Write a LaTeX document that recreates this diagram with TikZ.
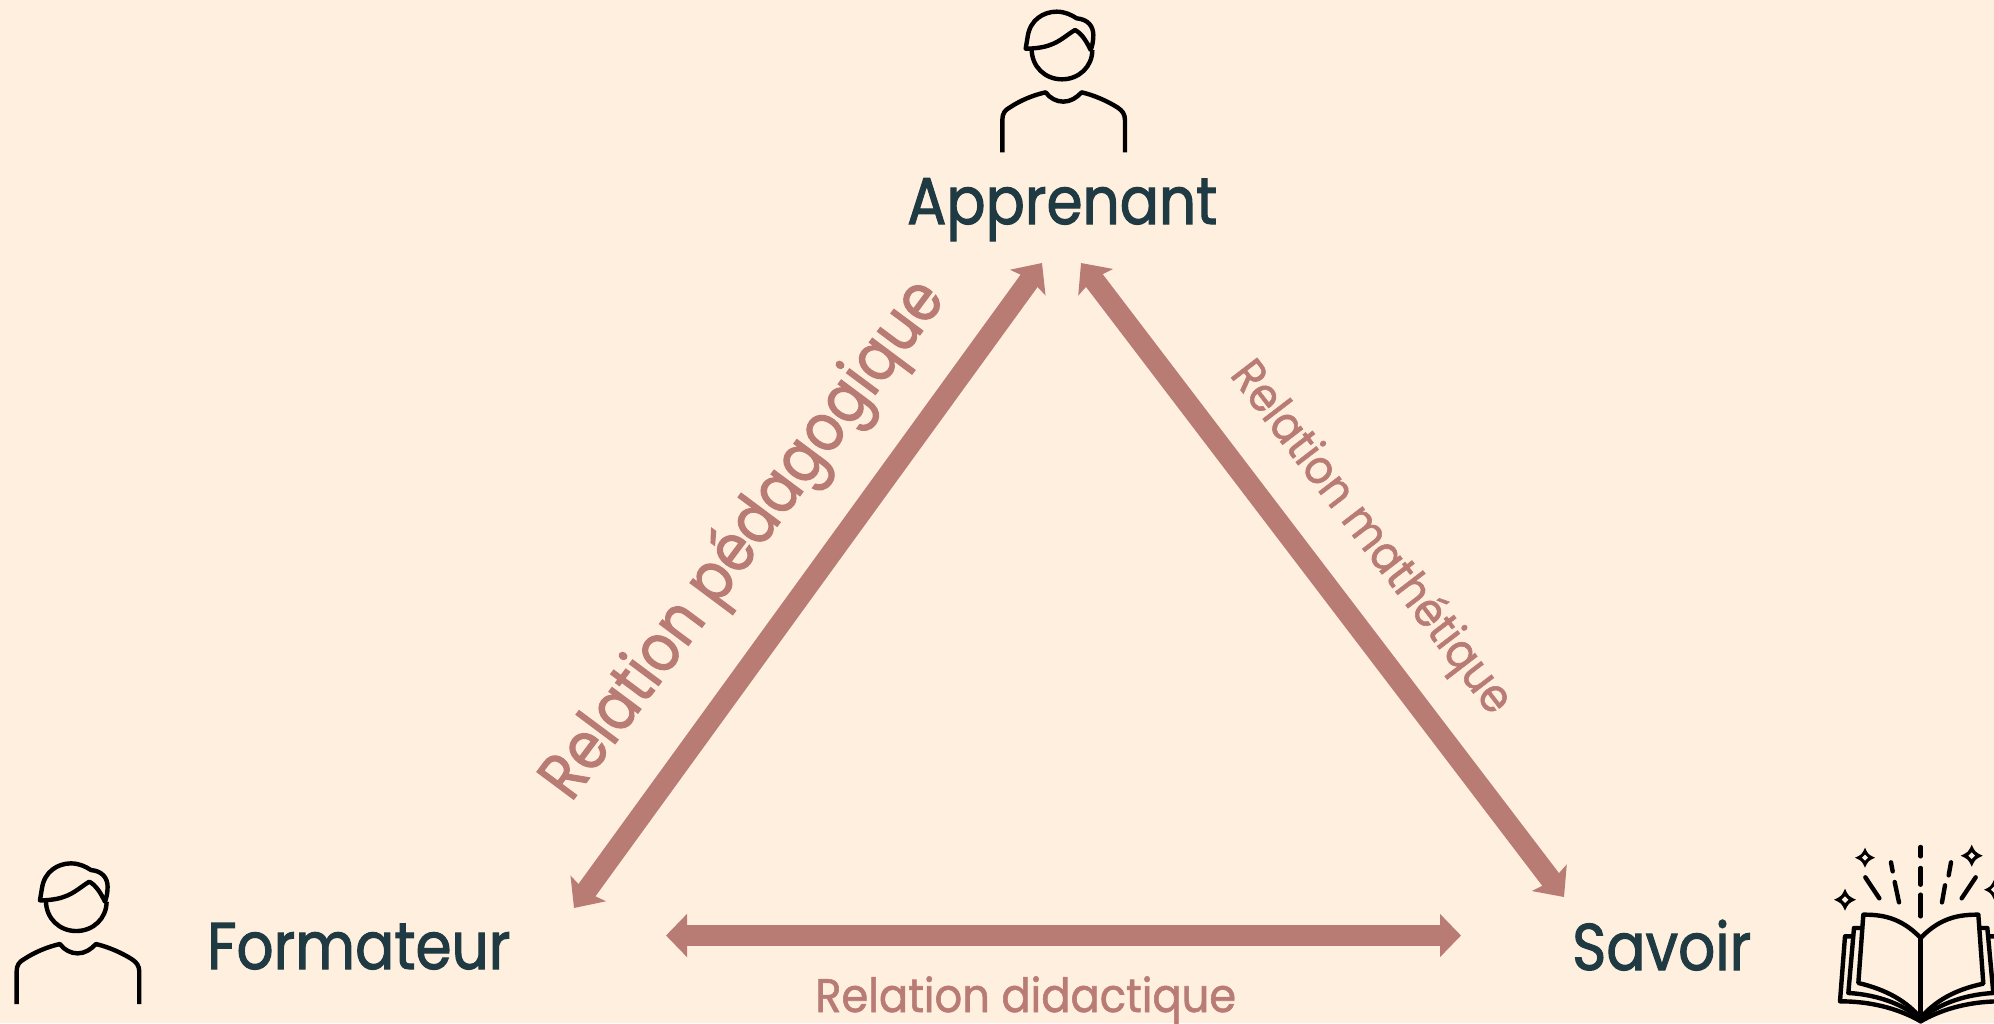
\documentclass[tikz,border=0pt]{standalone}
\usepackage{fontspec}
\setmainfont{Poppins}[FakeStretch=0.88,FakeBold=1.6]
\newfontfamily\fped{Poppins}[FakeStretch=0.855,FakeBold=1.6]
\newfontfamily\fmat{Poppins}[FakeStretch=0.90,FakeBold=1.2]
\newfontfamily\fdid{Poppins}[FakeStretch=0.92,FakeBold=1.2]
\usetikzlibrary{arrows.meta}
\definecolor{bgc}{HTML}{FFEFDF}
\definecolor{ink}{HTML}{1F3A42}
\definecolor{rose}{HTML}{B87C75}
\tikzset{
  x=1pt,y=-1pt,
  title/.style={text=ink,font=\fontsize{66}{66}\selectfont,inner sep=0pt,anchor=base west},
  rel/.style={text=rose,inner sep=0pt,anchor=base west},
  diag/.style={rose,line width=21pt,{Stealth[length=24pt,width=43pt,inset=4pt]}-{Stealth[length=24pt,width=43pt,inset=4pt]}},
  flat/.style={rose,line width=21pt,{Triangle[length=21pt,width=42pt]}-{Triangle[length=21pt,width=42pt]}},
  iconline/.style={black,line width=4.4pt,line join=round},
  person/.pic={
    \begin{scope}[x=0.3333pt,y=-0.3333pt]
      \draw[iconline] (455,147) .. controls (455,200) and (495,238) .. (546,238) .. controls (597,238) and (637,200) .. (637,150);
      \draw[iconline] (437,146) -- (443,110) .. controls (450,60) and (490,35) .. (530,35) .. controls (555,35) and (575,45) .. (590,55) .. controls (625,58) and (640,80) .. (640,105) .. controls (640,125) and (636,140) .. (632,150) .. controls (620,125) and (605,100) .. (585,90) .. controls (560,105) and (540,125) .. (510,135) .. controls (490,143) and (460,146) .. (437,146) -- cycle;
      \draw[iconline] (367,457) -- (367,360) .. controls (367,340) and (375,330) .. (390,322) .. controls (420,302) and (460,285) .. (497,277) .. controls (510,295) and (530,305) .. (550,305) .. controls (572,305) and (590,293) .. (605,277) .. controls (640,285) and (680,302) .. (712,322) .. controls (727,332) and (735,342) .. (735,360) -- (735,457);
    \end{scope}
  }
}
\newcommand{\sparkle}[3]{%
  \fill[black] (#1,#2-#3) .. controls (#1+0.32*#3,#2-0.32*#3) .. (#1+#3,#2) .. controls (#1+0.32*#3,#2+0.32*#3) .. (#1,#2+#3) .. controls (#1-0.32*#3,#2+0.32*#3) .. (#1-#3,#2) .. controls (#1-0.32*#3,#2-0.32*#3) .. cycle;
  \fill[bgc] (#1,#2-0.3*#3) -- (#1+0.3*#3,#2) -- (#1,#2+0.3*#3) -- (#1-0.3*#3,#2) -- cycle;
}
\begin{document}
\begin{tikzpicture}
\useasboundingbox (0,0) rectangle (1994,1023);
\fill[bgc] (0,0) rectangle (1994,1023);
% icons
\pic at (880,0) {person};
\pic at (-105.7,851.7) {person};
% book
\begin{scope}
\clip (1780,823) rectangle (1994,1023);
\begin{scope}[shift={(1780,823)},x=0.3333pt,y=-0.3333pt]
  \tikzset{bk/.style={black,line width=4.4pt,line join=round,line cap=round}}
  \draw[bk] (422,72)--(422,100) (422,135)--(422,185) (422,215)--(422,280);
  \draw[bk] (333,118)--(338,145) (344,177)--(357,238) (256,163)--(298,226);
  \draw[bk] (513,118)--(506,157) (495,187)--(486,238) (587,163)--(545,226);
  \draw[bk] (422,345)--(422,590);
  \draw[bk] (422,345) .. controls (360,280) and (300,275) .. (250,275) -- (235,480) .. controls (320,500) and (380,535) .. (422,585);
  \draw[bk] (422,345) .. controls (484,280) and (544,275) .. (595,275) -- (610,482) .. controls (524,500) and (464,535) .. (422,585);
  \draw[bk] (245,315)--(222,315)--(205,510) .. controls (300,515) and (380,550) .. (422,590);
  \draw[bk] (600,315)--(622,315)--(640,510) .. controls (544,515) and (464,550) .. (422,590);
  \draw[bk] (218,340)--(195,340)--(180,535) .. controls (290,535) and (370,565) .. (422,595);
  \draw[bk] (627,340)--(650,340)--(665,535) .. controls (554,535) and (474,565) .. (422,595);
\end{scope}
\end{scope}
\sparkle{1865}{857.7}{10}
\sparkle{1971.7}{855.7}{11}
\sparkle{1845}{899.7}{11}
\sparkle{1994}{889.7}{10}
% titles
\node[title] (app) at (907,224) {Apprenant};
\node[title] (form) at (207,969) {Formateur};
\node[title] (sav) at (1572,970) {Savoir};
% connectors
\coordinate (pA) at (1042,263);
\coordinate (pB) at (574,908);
\coordinate (mA) at (1081,263);
\coordinate (mB) at (1564,897);
\coordinate (dA) at (666,935.5);
\coordinate (dB) at (1461,935.5);
\draw[diag] (pA) -- (pB);
\draw[diag] (mA) -- (mB);
\draw[flat] (dA) -- (dB);
% labels
\node[rel,font=\fped\fontsize{66}{66}\selectfont,rotate=53.3] (lp) at (571,803) {Relation pédagogique};
\node[rel,font=\fmat\fontsize{47}{47}\selectfont,rotate=-52.5] (lm) at (1229,375) {Relation mathétique};
\node[rel,font=\fdid\fontsize{47}{47}\selectfont] (ld) at (815,1012) {Relation didactique};
\end{tikzpicture}
\end{document}
